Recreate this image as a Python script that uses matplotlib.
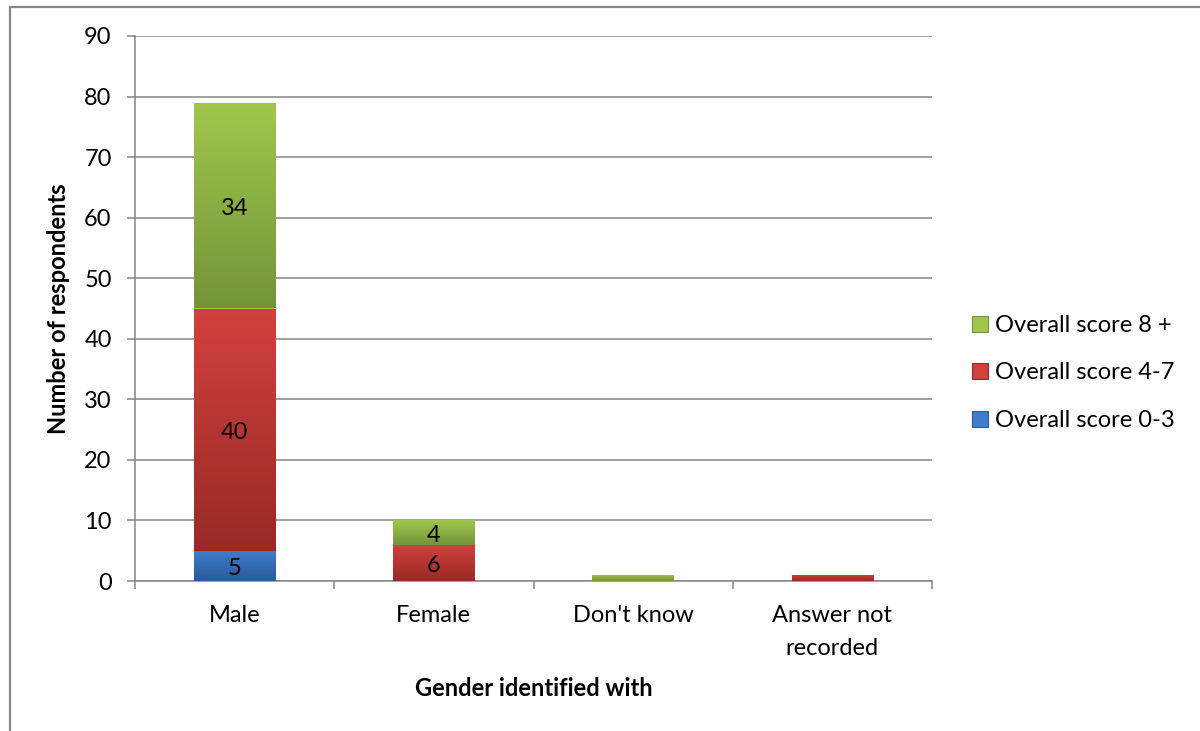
import numpy as np
import matplotlib
matplotlib.use("Agg")
import matplotlib.pyplot as plt
from matplotlib.colors import LinearSegmentedColormap
from matplotlib.lines import Line2D
from matplotlib.patches import Rectangle

plt.rcParams['font.family'] = ['Lato', 'DejaVu Sans']

# Data
categories = ["Male", "Female", "Don't know", "Answer not\nrecorded"]
score_0_3 = [5, 0, 0, 0]
score_4_7 = [40, 6, 0, 1]
score_8_plus = [34, 4, 1, 0]
series_names = ["Overall score 0-3", "Overall score 4-7", "Overall score 8 +"]
y_ticks = list(range(0, 91, 10))

# (bottom colour, top colour) for each series gradient
grad_colors = [("#2b5a98", "#3e7dcc"),
               ("#972a27", "#d2413d"),
               ("#74933a", "#a0c74c")]

grid_gray = "#868686"
fs = 17

fig = plt.figure(figsize=(12, 7.31), dpi=100)
ax = fig.add_axes([135 / 1200, 1 - 581 / 731, (932 - 135) / 1200, (581 - 36) / 731])

x = np.arange(len(categories))
width = 0.41
series = [score_0_3, score_4_7, score_8_plus]
bottom = np.zeros(len(categories))
grad = np.linspace(0, 1, 256).reshape(-1, 1)

for vals, (c_lo, c_hi) in zip(series, grad_colors):
    vals = np.asarray(vals, dtype=float)
    cmap = LinearSegmentedColormap.from_list("g", [c_lo, c_hi])
    bars = ax.bar(x, vals, width, bottom=bottom, color=c_hi, linewidth=0, zorder=3)
    for rect, v in zip(bars.patches, vals):
        if v <= 0:
            continue
        x0, y0 = rect.get_x(), rect.get_y()
        w, h = rect.get_width(), rect.get_height()
        im = ax.imshow(grad, cmap=cmap, origin="lower", aspect="auto",
                       extent=[x0, x0 + w, y0, y0 + h], zorder=4,
                       interpolation="bilinear")
        im.set_clip_path(rect)
        if v >= 2:
            ax.text(x0 + w / 2, y0 + h / 2 - 0.5, f"{int(v)}", ha="center", va="center",
                    fontsize=fs, color="black", zorder=6)
    bottom += vals

ax.set_xlim(-0.5, len(categories) - 0.5)
ax.set_ylim(0, 90)
ax.set_yticks(y_ticks)
ax.set_xticks(x)
ax.set_xticklabels(categories, fontsize=fs, linespacing=1.7)
ax.set_xticks(np.arange(-0.5, len(categories), 1.0), minor=True)
ax.tick_params(axis="x", which="major", length=0, pad=17)
ax.tick_params(axis="x", which="minor", length=8 * 0.72, width=1.1, color=grid_gray, direction="out")
ax.tick_params(axis="y", length=8 * 0.72, width=1.1, color=grid_gray, direction="out",
               labelsize=fs, pad=11)

ax.yaxis.grid(True, color=grid_gray, linewidth=1.1, zorder=0)
ax.set_axisbelow(True)
for s in ["top", "right"]:
    ax.spines[s].set_visible(False)
for s in ["left", "bottom"]:
    ax.spines[s].set_color(grid_gray)
    ax.spines[s].set_linewidth(1.1)

ax.set_xlabel("Gender identified with", fontsize=fs, fontweight="bold", labelpad=13)
ax.set_ylabel("Number of respondents", fontsize=fs, fontweight="bold", labelpad=10)

# Legend (top series listed first)
handles = [Rectangle((0, 0), 1, 1, facecolor=c_hi, edgecolor=c_lo, linewidth=0.8)
           for (c_lo, c_hi) in grad_colors]
leg = fig.legend(handles[::-1], series_names[::-1], loc="upper left",
                 bbox_to_anchor=(972 / 1200, 1 - 315 / 731), frameon=False,
                 fontsize=fs, handlelength=0.68, handleheight=0.68,
                 handletextpad=0.28, labelspacing=1.12, borderpad=0, borderaxespad=0)

# Chart-area frame
fig.add_artist(Line2D([9.5 / 1200, 9.5 / 1200], [0, 1 - 7 / 731], color=grid_gray,
                      linewidth=1.6, transform=fig.transFigure))
fig.add_artist(Line2D([9.5 / 1200, 1], [1 - 7 / 731, 1 - 7 / 731], color=grid_gray,
                      linewidth=1.6, transform=fig.transFigure))

fig.savefig("out.png", dpi=100, facecolor="white")
